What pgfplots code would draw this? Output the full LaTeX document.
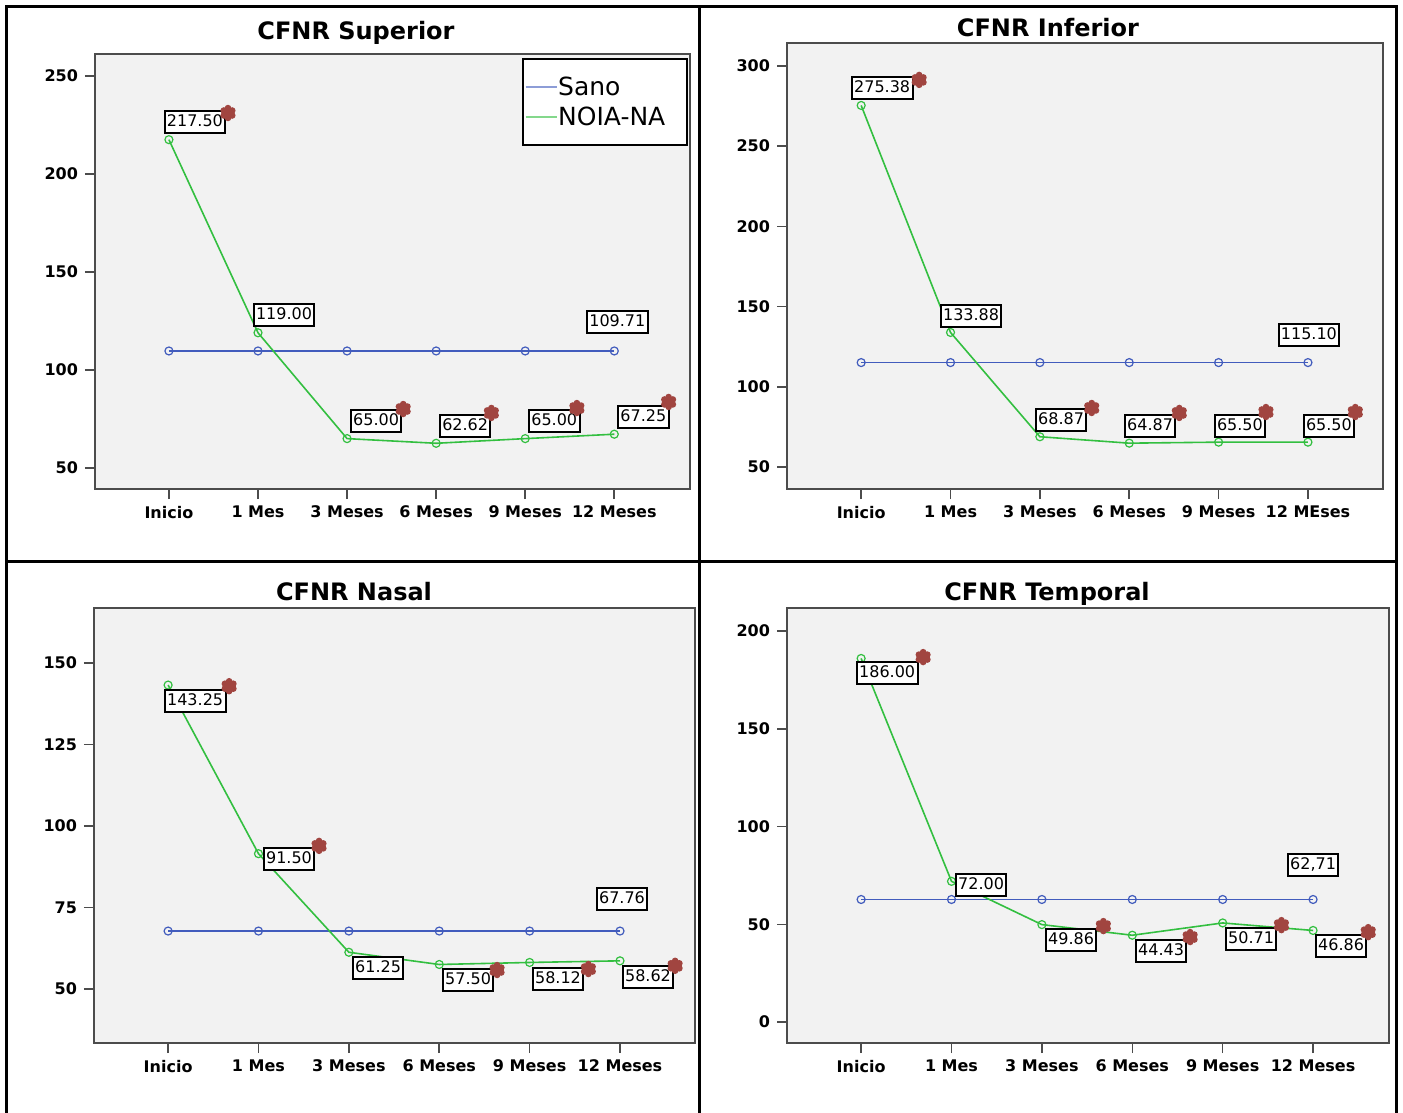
\documentclass[border=0pt]{standalone}
\usepackage{pgfplots}
\pgfplotsset{compat=1.18}
\usepackage{fontspec}
\setmainfont{DejaVu Sans}
\definecolor{sanoc}{rgb}{0.26,0.36,0.74}
\definecolor{noiac}{rgb}{0.20,0.75,0.25}
\definecolor{starc}{rgb}{0.63,0.27,0.25}
\pgfdeclareplotmark{flower}{%
  \pgfpathcircle{\pgfpointorigin}{0.6\pgfplotmarksize}%
  \pgfpathcircle{\pgfpointpolar{30}{0.58\pgfplotmarksize}}{0.4\pgfplotmarksize}%
  \pgfpathcircle{\pgfpointpolar{90}{0.58\pgfplotmarksize}}{0.4\pgfplotmarksize}%
  \pgfpathcircle{\pgfpointpolar{150}{0.58\pgfplotmarksize}}{0.4\pgfplotmarksize}%
  \pgfpathcircle{\pgfpointpolar{210}{0.58\pgfplotmarksize}}{0.4\pgfplotmarksize}%
  \pgfpathcircle{\pgfpointpolar{270}{0.58\pgfplotmarksize}}{0.4\pgfplotmarksize}%
  \pgfpathcircle{\pgfpointpolar{330}{0.58\pgfplotmarksize}}{0.4\pgfplotmarksize}%
  \pgfusepathqfill}
\pgfplotsset{
  panel/.style={
    scale only axis, anchor=north west, clip=false,
    axis background/.style={fill=white!95!black},
    axis line style={black!70, line width=0.9pt},
    tick align=outside, tick pos=left, major tick length=5pt,
    tick style={black!70, line width=0.8pt},
    xtick={0,...,5},
    ticklabel style={font=\bfseries\fontsize{8}{9}\selectfont},
    /pgf/number format/assume math mode=true,
  },
  sano/.style={color=sanoc, line width=0.8pt, mark=o, mark size=2pt, mark options={line width=0.6pt}},
  noia/.style={color=noiac, line width=0.8pt, mark=o, mark size=2pt, mark options={line width=0.6pt}},
  labs/.style={only marks, mark=none, forget plot, nodes near coords, point meta=explicit symbolic,
    nodes near coords style={anchor=center, draw=black, fill=white, text=black,
      line width=1pt, inner xsep=1.2pt, inner ysep=1.8pt, text height=6pt, text depth=1.2pt,
      font=\fontsize{8}{9}\selectfont}},
  stars/.style={only marks, mark=flower, mark size=4.2pt, color=starc, forget plot},
}
\begin{document}
\begin{tikzpicture}
\path[use as bounding box] (0,0) rectangle (701.5pt,-556.5pt);
% frame
\draw[line width=1.5pt] (3.25pt,-556.5pt) -- (3.25pt,-3.5pt) -- (698pt,-3.5pt) -- (698pt,-556.5pt);
\draw[line width=1.5pt] (349.5pt,-3.5pt) -- (349.5pt,-556.5pt);
\draw[line width=1.5pt] (3.25pt,-280.5pt) -- (698pt,-280.5pt);
% titles
\node[anchor=base, font=\bfseries\fontsize{12}{14}\selectfont] at (178pt,-20pt) {CFNR Superior};
\node[anchor=base, font=\bfseries\fontsize{12}{14}\selectfont] at (524pt,-18.5pt) {CFNR Inferior};
\node[anchor=base, font=\bfseries\fontsize{12}{14}\selectfont] at (177pt,-300pt) {CFNR Nasal};
\node[anchor=base, font=\bfseries\fontsize{12}{14}\selectfont] at (523.5pt,-300pt) {CFNR Temporal};

% Panel 1
\begin{axis}[panel, at={(47.5pt,-27pt)}, width=297.5pt, height=217.5pt,
  xmin=-0.83, xmax=5.85, ymin=39.3, ymax=261.2, ytick={50,100,...,250},
  xticklabels={Inicio,1 Mes,3 Meses,6 Meses,9 Meses,12 Meses},
  legend style={at={(0.7176,0.9908)}, anchor=north west, draw=black, line width=1pt, fill=white,
    font=\fontsize{12.5}{15}\selectfont, inner xsep=1pt, inner ysep=7pt, row sep=1pt,
    nodes={inner xsep=0.5pt, inner ysep=1pt, text height=10pt, text depth=2pt, text width=63pt, align=left}},
  legend cell align=left,
  legend image code/.code={\draw[#1, mark=none, line width=0.6pt, opacity=0.6] (0pt,0pt) -- (15.5pt,0pt);}]
\addplot[sano] coordinates {(0,109.71) (1,109.71) (2,109.71) (3,109.71) (4,109.71) (5,109.71)};
\addlegendentry{Sano}
\addplot[noia] coordinates {(0,217.50) (1,119.00) (2,65.00) (3,62.62) (4,65.00) (5,67.25)};
\addlegendentry{NOIA-NA}
\addplot[labs] coordinates {(0.292,226.5) [217.50] (1.292,128.1) [119.00] (2.326,74.0) [65.00] (3.326,71.4) [62.62] (4.326,74.0) [65.00] (5.326,76.0) [67.25] (5.034,124.5) [109.71]};
\addplot[stars] coordinates {(0.663,231.1) (2.63,80.1) (3.62,78.1) (4.58,80.6) (5.61,83.7)};
\end{axis}

% Panel 2
\begin{axis}[panel, at={(393.5pt,-21.5pt)}, width=298pt, height=223pt,
  xmin=-0.83, xmax=5.84, ymin=36.3, ymax=314.3, ytick={50,100,...,300},
  xticklabels={Inicio,1 Mes,3 Meses,6 Meses,9 Meses,12 MEses}]
\addplot[sano] coordinates {(0,115.10) (1,115.10) (2,115.10) (3,115.10) (4,115.10) (5,115.10)};
\addplot[noia] coordinates {(0,275.38) (1,133.88) (2,68.87) (3,64.87) (4,65.50) (5,65.50)};
\addplot[labs] coordinates {(0.235,286.3) [275.38] (1.230,144.1) [133.88] (2.237,79.3) [68.87] (3.233,75.6) [64.87] (4.239,75.6) [65.50] (5.235,75.6) [65.50] (5.011,132.3) [115.10]};
\addplot[stars] coordinates {(0.649,291.3) (2.58,86.8) (3.56,83.7) (4.53,84.3) (5.53,84.3)};
\end{axis}

% Panel 3
\begin{axis}[panel, at={(47pt,-304pt)}, width=300.5pt, height=217.5pt,
  xmin=-0.82, xmax=5.83, ymin=33.4, ymax=166.9, ytick={50,75,...,150},
  xticklabels={Inicio,1 Mes,3 Meses,6 Meses,9 Meses,12 Meses}]
\addplot[sano] coordinates {(0,67.76) (1,67.76) (2,67.76) (3,67.76) (4,67.76) (5,67.76)};
\addplot[noia] coordinates {(0,143.25) (1,91.50) (2,61.25) (3,57.50) (4,58.12) (5,58.62)};
\addplot[labs] coordinates {(0.299,138.3) [143.25] (1.338,89.9) [91.50] (2.323,56.5) [61.25] (3.319,52.8) [57.50] (4.314,53.1) [58.12] (5.310,53.7) [58.62] (5.022,77.6) [67.76]};
\addplot[stars] coordinates {(0.675,142.9) (1.67,93.9) (3.64,55.8) (4.65,56.1) (5.61,57.1)};
\end{axis}

% Panel 4
\begin{axis}[panel, at={(393.5pt,-304pt)}, width=301pt, height=217.5pt,
  xmin=-0.82, xmax=5.84, ymin=-10.7, ymax=211.8, ytick={0,50,...,200},
  xticklabels={Inicio,1 Mes,3 Meses,6 Meses,9 Meses,12 Meses}]
\addplot[sano] coordinates {(0,62.71) (1,62.71) (2,62.71) (3,62.71) (4,62.71) (5,62.71)};
\addplot[noia] coordinates {(0,186.00) (1,72.00) (2,49.86) (3,44.43) (4,50.71) (5,46.86)};
\addplot[labs] coordinates {(0.288,178.5) [186.00] (1.327,70.1) [72.00] (2.323,42.0) [49.86] (3.319,36.3) [44.43] (4.314,42.5) [50.71] (5.310,38.9) [46.86] (5.0,80.3) [{62,71}]};
\addplot[stars] coordinates {(0.686,186.7) (2.68,49.1) (3.64,43.5) (4.65,49.6) (5.61,46.0)};
\end{axis}
\end{tikzpicture}
\end{document}
